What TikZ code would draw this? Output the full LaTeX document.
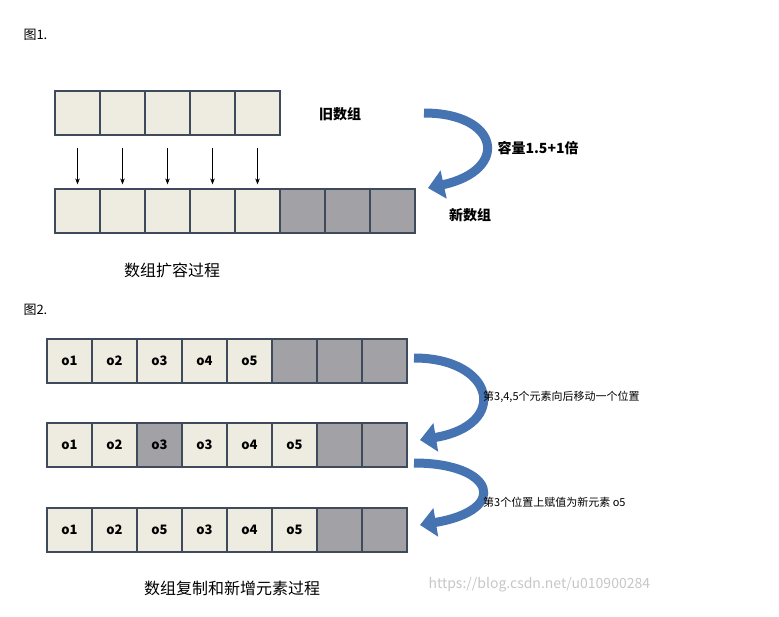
\documentclass[tikz,border=0pt]{standalone}
\usepackage{fontspec}
\setmainfont{Noto Sans CJK SC}
\usetikzlibrary{arrows.meta}
\definecolor{cl}{HTML}{EEEBE1}
\definecolor{cg}{HTML}{A2A2A6}
\definecolor{bd}{HTML}{3F4A5A}
\definecolor{ab}{HTML}{4673B2}
\tikzset{
 cell/.style={draw=bd,line width=1.2pt,fill=cl,minimum width=45pt,minimum height=44pt,inner sep=0pt,font=\fontsize{13}{13}\selectfont\bfseries},
 gcell/.style={cell,fill=cg},
 lbl/.style={font=\fontsize{13}{13}\selectfont},
 blbl/.style={font=\fontsize{14}{14}\selectfont\bfseries},
 bigarrow/.style={draw=ab,line width=9pt,-{Triangle[length=16pt,width=28pt]}},
 down/.style={-{Stealth[length=6pt]},line width=0.6pt}
}
\begin{document}
\begin{tikzpicture}[x=1pt,y=-1pt]
\useasboundingbox[fill=white] (0,0) rectangle (779,616);
\node[lbl,anchor=west] (f1) at (20,35) {图1.};
\foreach \i in {1,...,5}{\node[cell] (a\i) at (55+45*\i-22.5,113) {};}
\foreach \i in {1,...,5}{\node[cell] (b\i) at (55+45*\i-22.5,211) {};}
\foreach \i in {6,7,8}{\node[gcell] (b\i) at (55+45*\i-22.5,211) {};}
\foreach \i in {1,...,5}{\draw[down] ([yshift=-12pt]a\i.south) -- ([yshift=4pt]b\i.north);}
\node[blbl] (old) at (340,114) {旧数组};
\node[blbl,anchor=west] (cap) at (494,148) {容量1.5+1倍};
\node[blbl] (new) at (470,215) {新数组};
\node[font=\fontsize{16}{16}\selectfont] (c1) at (172,270) {数组扩容过程};
\coordinate (s1) at (424,113); \coordinate (e1) at (428,188);
\draw[bigarrow] (s1) .. controls (500,113) and (510,170) .. (e1);
\node[lbl,anchor=west] (f2) at (20,310) {图2.};
\foreach \r/\y in {1/361,2/445,3/530}{
 \foreach \i in {1,...,8}{\node[gcell] (r\r c\i) at (47+45*\i-22.5,\y) {};}
}
\foreach \t [count=\i] in {o1,o2,o3,o4,o5}{\node[cell] (p\i) at (r1c\i) {\t};}
\foreach \t [count=\i] in {o1,o2,o3,o3,o4,o5}{\node[cell] (q\i) at (r2c\i) {\t};}
\node[gcell] (q3b) at (r2c3) {o3};
\foreach \t [count=\i] in {o1,o2,o5,o3,o4,o5}{\node[cell] (u\i) at (r3c\i) {\t};}
\coordinate (s2) at (414,358); \coordinate (e2) at (420,440);
\draw[bigarrow] (s2) .. controls (495,358) and (510,425) .. (e2);
\coordinate (s3) at (414,463); \coordinate (e3) at (420,525);
\draw[bigarrow] (s3) .. controls (495,463) and (510,510) .. (e3);
\node[font=\fontsize{11}{11}\selectfont,anchor=west,inner sep=1pt] (t1) at (482,397) {第3,4,5个元素向后移动一个位置};
\node[font=\fontsize{11}{11}\selectfont,anchor=west,inner sep=1pt] (t2) at (482,502) {第3个位置上赋值为新元素 o5};
\node[font=\fontsize{16}{16}\selectfont] (c2) at (232,588) {数组复制和新增元素过程};
\node[font=\fontsize{14}{14}\selectfont,text=black!22,anchor=west] (wm) at (425,585) {https://blog.csdn.net/u010900284};
\end{tikzpicture}
\end{document}
